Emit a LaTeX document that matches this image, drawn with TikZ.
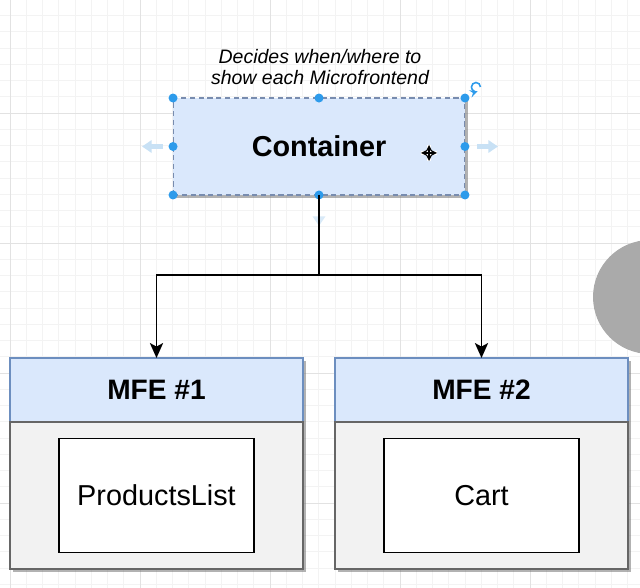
\documentclass[tikz,border=0pt]{standalone}
\usepackage{fontspec}
\setmainfont{Liberation Sans}
\usepackage{tikz}
\usetikzlibrary{shapes,arrows,arrows.meta}
\usetikzlibrary{positioning}
\usetikzlibrary{shadows}
\usetikzlibrary{calc}
\definecolor{mfeblue}{RGB}{218,232,252}
\definecolor{mfeedge}{RGB}{108,142,191}
\definecolor{mfebody}{RGB}{242,242,242}
\definecolor{selectedge}{RGB}{120,140,175}
\definecolor{handleblue}{RGB}{45,155,235}
\definecolor{hintblue}{RGB}{200,225,245}
\definecolor{gridminor}{RGB}{243,243,243}
\definecolor{gridmajor}{RGB}{226,226,226}
\definecolor{ballgray}{RGB}{170,170,170}
\tikzstyle{line} = [draw, -{Stealth[length=8.5pt, width=7.5pt, inset=2pt]}, line width=1.1pt]
\tikzset{
    shadowed/.style={drop shadow={shadow xshift=0.06cm, shadow yshift=-0.06cm, fill=black!55, opacity=0.55}},
    containerbox/.style={rectangle, fill=mfeblue, draw=selectedge, dash pattern=on 3pt off 2pt,
        line width=0.6pt, shadowed, outer sep=0pt, minimum width=5.84cm, minimum height=1.94cm,
        font=\fontsize{16.4}{19}\selectfont\bfseries},
    mfehead/.style={rectangle, fill=mfeblue, draw=mfeedge, line width=0.8pt, shadowed, outer sep=0pt,
        minimum width=5.86cm, minimum height=1.28cm, font=\fontsize{16}{19}\selectfont\bfseries},
    mfebox/.style={rectangle, fill=mfebody, draw=black!60, line width=0.8pt, shadowed, outer sep=0pt,
        minimum width=5.86cm, minimum height=2.94cm},
    innerbox/.style={rectangle, fill=white, draw=black, line width=1pt, outer sep=0pt,
        minimum width=3.9cm, minimum height=2.28cm, font=\fontsize{16.4}{19}\selectfont},
    note/.style={align=center, font=\fontsize{11.1}{11.9}\selectfont\itshape},
    handle/.style={fill=handleblue},
    hint/.style={draw=hintblue, line width=2.4pt, -{Triangle[length=5.5pt, width=7pt]}},
    cursor/.style={line width=0.7pt, <->, >=stealth},
}

\begin{document}
\begin{tikzpicture}[x=0.02cm, y=-0.02cm]
    \useasboundingbox (0,0) rectangle (640,588);
    \clip (0,0) rectangle (640,588);
    % grid
    \foreach \i in {-1,...,39}
        \draw[gridminor, line width=0.4pt] ({10+16.25*\i},0) -- ({10+16.25*\i},588);
    \foreach \i in {-7,...,29}
        \draw[gridminor, line width=0.4pt] (0,{113+16.25*\i}) -- (640,{113+16.25*\i});
    \foreach \i in {0,...,4}
        \draw[gridmajor, line width=0.5pt] ({10+130*\i},0) -- ({10+130*\i},588);
    \foreach \i in {-1,...,4}
        \draw[gridmajor, line width=0.5pt] (0,{113+130*\i}) -- (640,{113+130*\i});
    \fill[ballgray] (650,297) circle (1.14cm);

    \node[note] (why) at (320,67) {Decides when/where to\\show each Microfrontend};
    \node[containerbox] (cont) at (319,146.5) {Container};

    \node[mfehead] (mfeone) at (156.5,390) {MFE \#1};
    \node[mfebox, below=0pt of mfeone] (mfeonebody) {};
    \node[innerbox] (plist) at (mfeonebody) {ProductsList};

    \node[mfehead] (mfetwo) at (481.5,390) {MFE \#2};
    \node[mfebox, below=0pt of mfetwo] (mfetwobody) {};
    \node[innerbox] (cart) at (mfetwobody) {Cart};

    % selection handles
    \draw[hint] ($(cont.west)+(-10,0)$) -- ++(-21,0);
    \draw[hint] ($(cont.east)+(12,0)$) -- ++(21,0);
    \draw[hint, draw=hintblue!70, line width=1.6pt] ($(cont.south)+(0,12)$) -- ++(0,19);
    \foreach \a in {north west, north, north east, west, east, south west, south, south east}
        \fill[handle] (cont.\a) circle (0.09cm);
    \draw[handleblue, line width=0.9pt, -stealth] ($(cont.north east)+(11,-11)$) ++(0.09cm,0)
        arc[start angle=0, end angle=290, radius=0.09cm];
    \draw[white, line width=2.2pt] (429,145) -- (429,161) (421,153) -- (437,153);
    \draw[cursor] (429,145) -- (429,161);
    \draw[cursor] (421,153) -- (437,153);

    % connectors
    \coordinate (split) at ($(cont.south)+(0,80)$);
    \draw[line] (cont.south) -- (split) -| (mfeone.north);
    \draw[line] (split) -| (mfetwo.north);
\end{tikzpicture}
\end{document}
